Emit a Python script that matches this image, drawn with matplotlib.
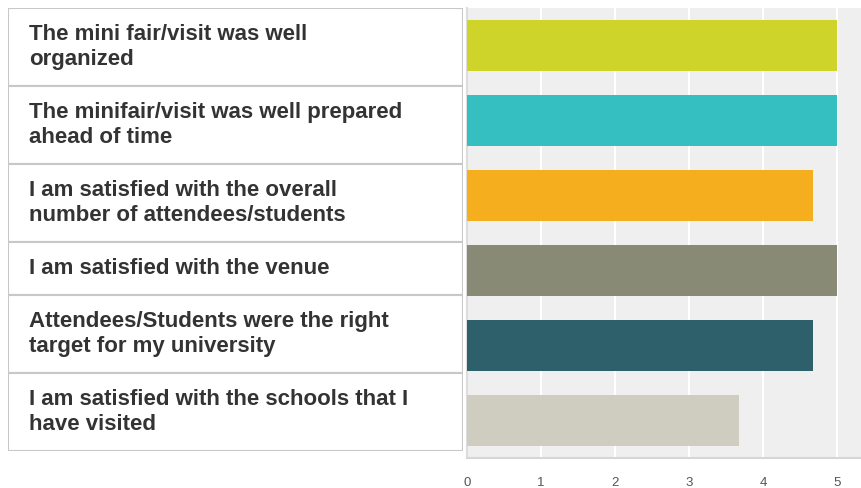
import matplotlib.pyplot as plt
from matplotlib.patches import Rectangle

# data
labels = [
    "The mini fair/visit was well\norganized",
    "The minifair/visit was well prepared\nahead of time",
    "I am satisfied with the overall\nnumber of attendees/students",
    "I am satisfied with the venue",
    "Attendees/Students were the right\ntarget for my university",
    "I am satisfied with the schools that I\nhave visited",
]
scores = [5.0, 5.0, 4.67, 5.0, 4.67, 3.67]
colors = ["#cfd42a", "#35bfc0", "#f5ae1e", "#888a76", "#2e606c", "#cecdbf"]
ticks = [0, 1, 2, 3, 4, 5]

plt.rcParams['font.family'] = ['Liberation Sans', 'DejaVu Sans']

W, H = 861, 488
fig = plt.figure(figsize=(W / 100, H / 100), dpi=100)

# chart area (pixels)
px0, py0, px1, py1 = 467, 8, 861, 458
ax = fig.add_axes([px0 / W, 1 - py1 / H, (px1 - px0) / W, (py1 - py0) / H])
ax.set_facecolor("#efefef")
y = list(range(len(scores)))
ax.barh(y, scores, height=0.67, color=colors, zorder=3)
ax.set_ylim(len(scores) - 0.5, -0.5)
ax.set_xlim(0, (px1 - px0) / 74)
ax.set_xticks(ticks)
ax.set_xticklabels([str(t) for t in ticks], fontsize=9.5, color="#555555")
ax.set_yticks([])
ax.grid(axis="x", color="white", linewidth=1.5, zorder=1)
ax.tick_params(axis="x", length=0, pad=14)
for s in ["top", "right"]:
    ax.spines[s].set_visible(False)
ax.spines["bottom"].set_color("#d6d6d6")
ax.spines["bottom"].set_linewidth(1.5)
ax.spines["left"].set_color("#dddddd")
ax.spines["left"].set_linewidth(1.5)

# label table (pixels)
tx0, tx1 = 8, 463
row_h = [78 if "\n" in l else 53 for l in labels]
tab_h = sum(row_h)
axt = fig.add_axes([tx0 / W, 1 - (py0 + tab_h) / H, (tx1 - tx0) / W, tab_h / H])
axt.set_xlim(0, tx1 - tx0)
axt.set_ylim(tab_h, 0)
axt.axis("off")
top = 0
for lab, h in zip(labels, row_h):
    axt.add_patch(Rectangle((0, top), tx1 - tx0, h, facecolor="white",
                            edgecolor="#c8c8c8", linewidth=1.5))
    axt.text(21, top + h / 2, lab, fontsize=16, fontweight="bold",
             color="#333333", va="center", ha="left", linespacing=1.25)
    top += h

fig.savefig("out.png", dpi=100)
